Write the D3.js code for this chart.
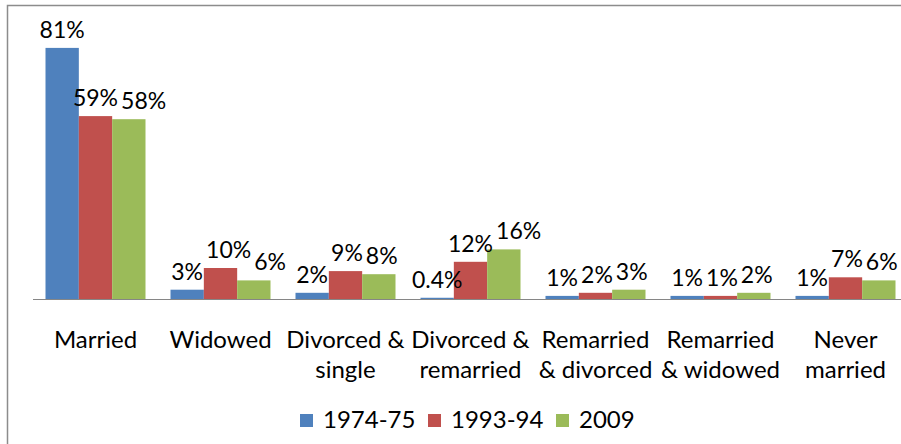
<html>

<head>
    <script src="https://d3js.org/d3.v7.min.js"></script>
    <style>
        body { margin: 0; background: #fff; }
        text { font-family: Lato, "Open Sans", sans-serif; fill: #000; }
    </style>
</head>

<body>
    <svg id="chartArea" width="901" height="444"></svg>
    <script>
        // categories (line breaks as in the original labels)
        const categories = [
            ["Married"],
            ["Widowed"],
            ["Divorced &", "single"],
            ["Divorced &", "remarried"],
            ["Remarried", "& divorced"],
            ["Remarried", "& widowed"],
            ["Never", "married"]
        ];
        const seriesNames = ["1974-75", "1993-94", "2009"];
        const values1974 = [81, 3, 2, 0.4, 1, 1, 1];
        const values1993 = [59, 10, 9, 12, 2, 1, 7];
        const values2009 = [58, 6, 8, 16, 3, 2, 6];
        const colors = ["#4F81BD", "#C0504D", "#9BBB59"];

        const svg = d3.select("#chartArea");
        const width = +svg.attr("width");
        const height = +svg.attr("height");

        // chart frame (only top and left edges are inside the picture)
        svg.append("rect")
            .attr("x", 7.5).attr("y", 5.5)
            .attr("width", width + 20).attr("height", height + 20)
            .attr("fill", "none")
            .attr("stroke", "#8c8c8c")
            .attr("stroke-width", 1.5);

        const table = seriesNames.map((name, i) => ({
            name: name,
            color: colors[i],
            values: [values1974, values1993, values2009][i]
        }));

        const catIndex = d3.range(categories.length);

        const xScale = d3.scaleBand()
            .domain(catIndex)
            .range([33, 908])
            .paddingInner(0.2)
            .paddingOuter(0.1);

        const subScale = d3.scaleBand()
            .domain(seriesNames)
            .range([0, xScale.bandwidth()]);

        const yScale = d3.scaleLinear()
            .domain([0, 90])
            .range([299, 20]);

        //bars
        const groups = svg.selectAll(".series")
            .data(table)
            .join("g")
            .attr("class", "series")
            .attr("fill", d => d.color);

        groups.selectAll("rect")
            .data(d => d.values.map((v, i) => ({ name: d.name, v: v, i: i })))
            .join("rect")
            .attr("x", d => xScale(d.i) + subScale(d.name))
            .attr("y", d => yScale(d.v))
            .attr("width", subScale.bandwidth())
            .attr("height", d => yScale(0) - yScale(d.v));

        //data labels, one group per category so they can be nudged apart
        const labelGroups = svg.append("g").selectAll("g")
            .data(catIndex)
            .join("g");

        labelGroups.selectAll("text")
            .data(i => table.map(s => ({ name: s.name, v: s.values[i], i: i })))
            .join("text")
            .attr("x", d => xScale(d.i) + subScale(d.name) + subScale.bandwidth() / 2)
            .attr("y", d => yScale(d.v) - 10)
            .attr("text-anchor", "middle")
            .style("font-size", "23px")
            .text(d => d.v + "%");

        // push a label right when it runs into the one before it
        labelGroups.each(function () {
            let prev = null;
            d3.select(this).selectAll("text").each(function () {
                const b = this.getBBox();
                if (prev) {
                    const overlapY = b.y < prev.y + prev.height - 4 && prev.y < b.y + b.height - 4;
                    const overlapX = prev.x + prev.width + 3 - b.x;
                    if (overlapY && overlapX > 0) {
                        this.setAttribute("x", +this.getAttribute("x") + overlapX);
                        b.x += overlapX;
                    }
                }
                prev = b;
            });
        });

        //category axis
        const bottomAxis = d3.axisBottom(xScale).tickSize(0).tickFormat("");
        const axisG = svg.append("g")
            .attr("transform", `translate(0,${yScale(0) + 0.5})`)
            .call(bottomAxis);
        axisG.select(".domain").attr("stroke", "#868686").attr("d", "M33,0H910");

        const catLabels = svg.append("g").selectAll("text")
            .data(catIndex)
            .join("text")
            .attr("x", d => xScale(d) + xScale.bandwidth() / 2)
            .attr("y", 348)
            .attr("text-anchor", "middle")
            .style("font-size", "24px");

        catLabels.selectAll("tspan")
            .data(d => categories[d])
            .join("tspan")
            .attr("x", function () { return this.parentNode.getAttribute("x"); })
            .attr("dy", (d, i) => i === 0 ? 0 : 30)
            .text(d => d);

        //legend
        const legendX = d3.scaleOrdinal().domain(seriesNames).range([300, 428, 556]);
        const legend = svg.append("g").selectAll("g")
            .data(table)
            .join("g")
            .attr("transform", d => `translate(${legendX(d.name)},0)`);

        legend.append("rect")
            .attr("y", 414)
            .attr("width", 13).attr("height", 13)
            .attr("fill", d => d.color);

        legend.append("text")
            .attr("x", 23)
            .attr("y", 428)
            .style("font-size", "24px")
            .text(d => d.name);
    </script>
</body>

</html>
